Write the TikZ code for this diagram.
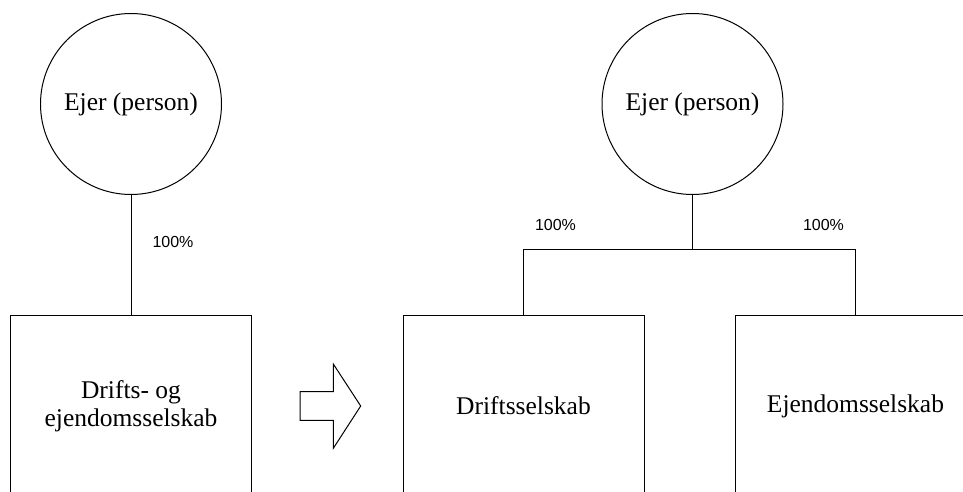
\documentclass[tikz,border=0pt]{standalone}
\usepackage{fontspec}
\setmainfont{Liberation Serif}
\newfontfamily\pctfont{Liberation Sans}
\usetikzlibrary{calc}
\tikzset{
  owner/.style={draw=black, circle, line width=1pt, minimum size=181pt, inner sep=0pt, font=\fontsize{25.5}{28}\selectfont},
  firm/.style={draw=black, line width=1pt, minimum width=241pt, minimum height=181pt, inner sep=0pt, align=center, font=\fontsize{25.5}{28}\selectfont},
  link/.style={draw=black, line width=1pt},
  pct/.style={font=\pctfont\fontsize{16}{18}\selectfont, inner sep=0pt},
  turnarrow/.style={draw=black, line width=1pt, line join=miter},
}

\begin{document}
\begin{tikzpicture}[x=1pt,y=-1pt]
  \useasboundingbox (0,0) rectangle (963,492);
  \clip (0,0) rectangle (963,492);
  % before
  \node[owner] (ejerA) at (131,104) {Ejer (person)};
  \node[firm] (samlet) at (131,406) {Drifts- og\\ejendomsselskab};
  \draw[link] (ejerA.south) -- (samlet.north);
  \node[pct] (pctA) at (173,241.5) {100\%};
  % arrow
  \draw[turnarrow] (300,391.7) -- (333.3,391.7) -- (333.3,364) -- (360.7,406)
    -- (333.3,448.3) -- (333.3,420.3) -- (300,420.3) -- cycle;
  % after
  \node[owner] (ejerB) at (692.5,104) {Ejer (person)};
  \node[firm] (drift) at (523.5,406) {Driftsselskab};
  \node[firm] (ejd) at (855.5,406) {Ejendomsselskab};
  \coordinate (bar) at (692.5,249.3);
  \draw[link] (ejerB.south) -- (bar);
  \draw[link] (drift.north) |- (bar) -| (ejd.north);
  \node[pct] (pctB) at (555.5,225) {100\%};
  \node[pct] (pctC) at (823.5,225) {100\%};
\end{tikzpicture}
\end{document}
